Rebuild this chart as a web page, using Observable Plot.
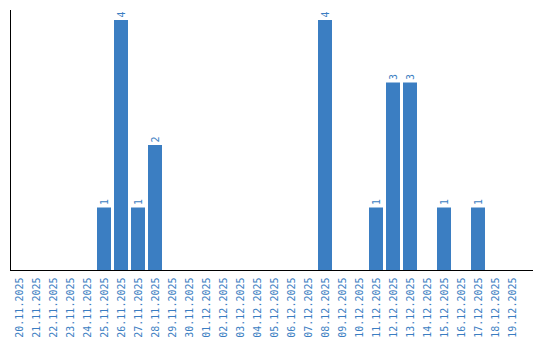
<!DOCTYPE html>
<html>
<head>
<meta charset="utf-8">
<script src="https://cdn.jsdelivr.net/npm/d3@7"></script>
<script src="https://cdn.jsdelivr.net/npm/@observablehq/plot@0.6"></script>
<style>
  body { margin: 0; background: #fff; }
  #chart svg { display: block; }
  #chart svg, #chart svg text { font-family: "DejaVu Sans Mono", monospace !important; font-size: 10px; }
</style>
</head>
<body>
<div id="chart"></div>
<script>
const dates = ["20.11.2025","21.11.2025","22.11.2025","23.11.2025","24.11.2025","25.11.2025","26.11.2025","27.11.2025","28.11.2025","29.11.2025","30.11.2025","01.12.2025","02.12.2025","03.12.2025","04.12.2025","05.12.2025","06.12.2025","07.12.2025","08.12.2025","09.12.2025","10.12.2025","11.12.2025","12.12.2025","13.12.2025","14.12.2025","15.12.2025","16.12.2025","17.12.2025","18.12.2025","19.12.2025"];
const counts = [0,0,0,0,0,1,4,1,2,0,0,0,0,0,0,0,0,0,4,0,0,1,3,3,0,1,0,1,0,0];

const data = dates.map((d, i) => ({date: d, value: counts[i]}));
const nonZero = data.filter(d => d.value > 0);
const blue = "#3b7ec2";

const chart = Plot.plot({
  width: 540,
  height: 340,
  marginLeft: 10,
  marginRight: 20,
  marginTop: 10,
  marginBottom: 70,
  style: {fontFamily: "DejaVu Sans Mono", fontSize: "10px", background: "#fff"},
  x: {domain: dates, paddingInner: 0.18, paddingOuter: 0, tickRotate: -90, tickSize: 0, tickPadding: 7, label: null},
  y: {domain: [0, 4.16], ticks: [], tickSize: 0, line: true, label: null},
  marks: [
    Plot.barY(data, {x: "date", y: "value", fill: blue}),
    Plot.text(nonZero, {x: "date", y: "value", text: d => String(d.value), rotate: -90, textAnchor: "start", lineAnchor: "middle", dy: -3, fill: blue, fontSize: 10}),
    Plot.ruleY([0], {stroke: "#000", insetRight: -13})
  ]
});
d3.select(chart).selectAll('g[aria-label="x-axis"] text, g[aria-label="x-axis tick label"] text').attr("fill", blue);
d3.select(chart).selectAll('g[aria-label="y-axis"] path, g[aria-label="y-axis"] line').attr("stroke", "#000").attr("stroke-opacity", 1);
document.getElementById("chart").appendChild(chart);
</script>
</body>
</html>
